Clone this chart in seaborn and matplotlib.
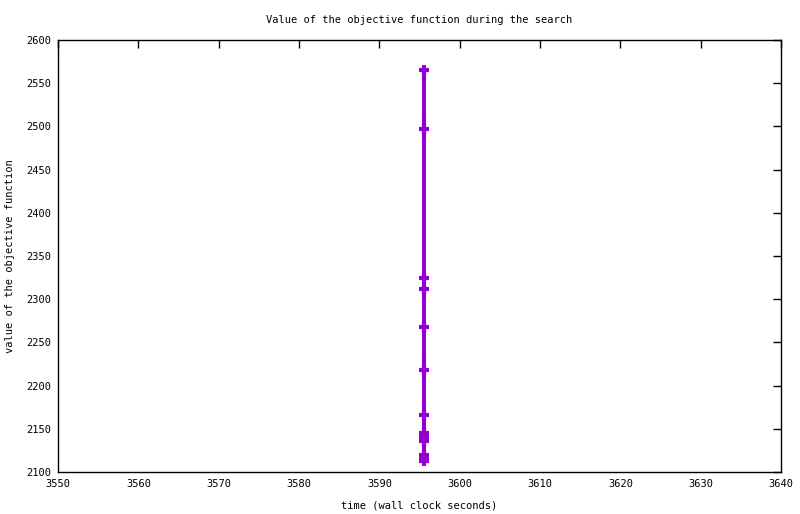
import matplotlib
matplotlib.use("Agg")
import matplotlib.pyplot as plt
import seaborn as sns
import pandas as pd

times = [3595.5, 3595.5, 3595.5, 3595.5, 3595.5, 3595.5, 3595.5,
         3595.5, 3595.5, 3595.5, 3595.5, 3595.5, 3595.5]
objective = [2565, 2497, 2325, 2312, 2268, 2218, 2166,
             2145, 2141, 2136, 2120, 2116, 2113]
x_ticks = [3550, 3560, 3570, 3580, 3590, 3600, 3610, 3620, 3630, 3640]
y_ticks = [2100, 2150, 2200, 2250, 2300, 2350, 2400, 2450, 2500, 2550, 2600]

sns.set_style("white")
plt.rcParams['font.family'] = ['DejaVu Sans Mono', 'DejaVu Sans']
plt.rcParams['text.color'] = 'black'
plt.rcParams['axes.labelcolor'] = 'black'

df = pd.DataFrame({"time": times, "obj": objective})

fig = plt.figure(figsize=(8.0, 5.14), dpi=100)
ax = fig.add_axes([58/800, 1-472/514, (781-58)/800, (472-40)/514])

sns.lineplot(data=df, x="time", y="obj", ax=ax, sort=False, estimator=None,
             color="#9400D3", linewidth=2.9)
ax.plot(df["time"], df["obj"], linestyle="none", marker="+", markersize=7.5,
        markeredgewidth=3.0, color="#9400D3")

ax.set_xlim(3550, 3640)
ax.set_ylim(2100, 2600)
ax.set_xticks(x_ticks)
ax.set_yticks(y_ticks)
ax.tick_params(direction="in", length=6, width=1, top=True, right=True,
               labelsize=7.5, colors="black", pad=5)
for s in ax.spines.values():
    s.set_visible(True)
    s.set_color("black")
    s.set_linewidth(1)

ax.set_title("Value of the objective function during the search", fontsize=7.5,
             pad=12, color="black")
ax.set_xlabel("time (wall clock seconds)", fontsize=7.5, labelpad=8, color="black")
ax.set_ylabel("value of the objective function", fontsize=7.5, labelpad=8, color="black")

fig.savefig("out.png", dpi=100)
